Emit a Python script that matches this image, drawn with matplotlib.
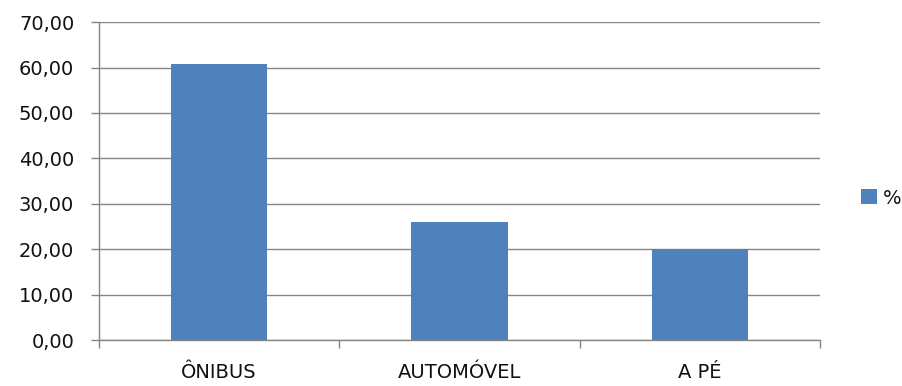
import numpy as np
import matplotlib.pyplot as plt
from matplotlib.patches import Patch

categorias = ['ÔNIBUS', 'AUTOMÓVEL', 'A PÉ']
percentual = [60.7, 26.1, 20.1]
y_ticks = [0, 10, 20, 30, 40, 50, 60, 70]

plt.rcParams['font.family'] = ['DejaVu Sans']
fs = 14

fig = plt.figure(figsize=(9.03, 3.86), dpi=100)
ax = fig.add_axes([0.1096, 0.1179, 0.7985, 0.8251])

x = np.arange(len(categorias))
ax.bar(x, percentual, width=0.4, color='#4F81BD', zorder=3)

ax.set_xlim(-0.5, len(categorias) - 0.5)
ax.set_ylim(0, 70)
ax.set_yticks(y_ticks)
ax.set_yticklabels([f'{v:.2f}'.replace('.', ',') for v in y_ticks])
ax.yaxis.grid(True, color='#868686', linewidth=1.0, zorder=0)

# category labels centred, tick marks on category boundaries
ax.set_xticks(x)
ax.set_xticklabels(categorias)
ax.set_xticks(np.arange(-0.5, len(categorias)), minor=True)
ax.tick_params(axis='x', which='major', length=0, pad=16, labelsize=fs, labelcolor='#111111')
ax.tick_params(axis='x', which='minor', length=5.8, width=1.0, color='#868686')
ax.tick_params(axis='y', length=5.8, width=1.0, color='#868686', pad=12,
               labelsize=fs, labelcolor='#111111')

for side in ['top', 'right']:
    ax.spines[side].set_visible(False)
for side in ['left', 'bottom']:
    ax.spines[side].set_color('#868686')
    ax.spines[side].set_linewidth(1.0)

handle = Patch(facecolor='#4F81BD', label='%')
fig.legend(handles=[handle], loc='center left', bbox_to_anchor=(0.954, 0.487),
           frameon=False, fontsize=fs, handlelength=0.8, handleheight=0.8,
           handletextpad=0.3, borderpad=0, borderaxespad=0, labelcolor='#111111')

fig.savefig('out.png', dpi=100)
